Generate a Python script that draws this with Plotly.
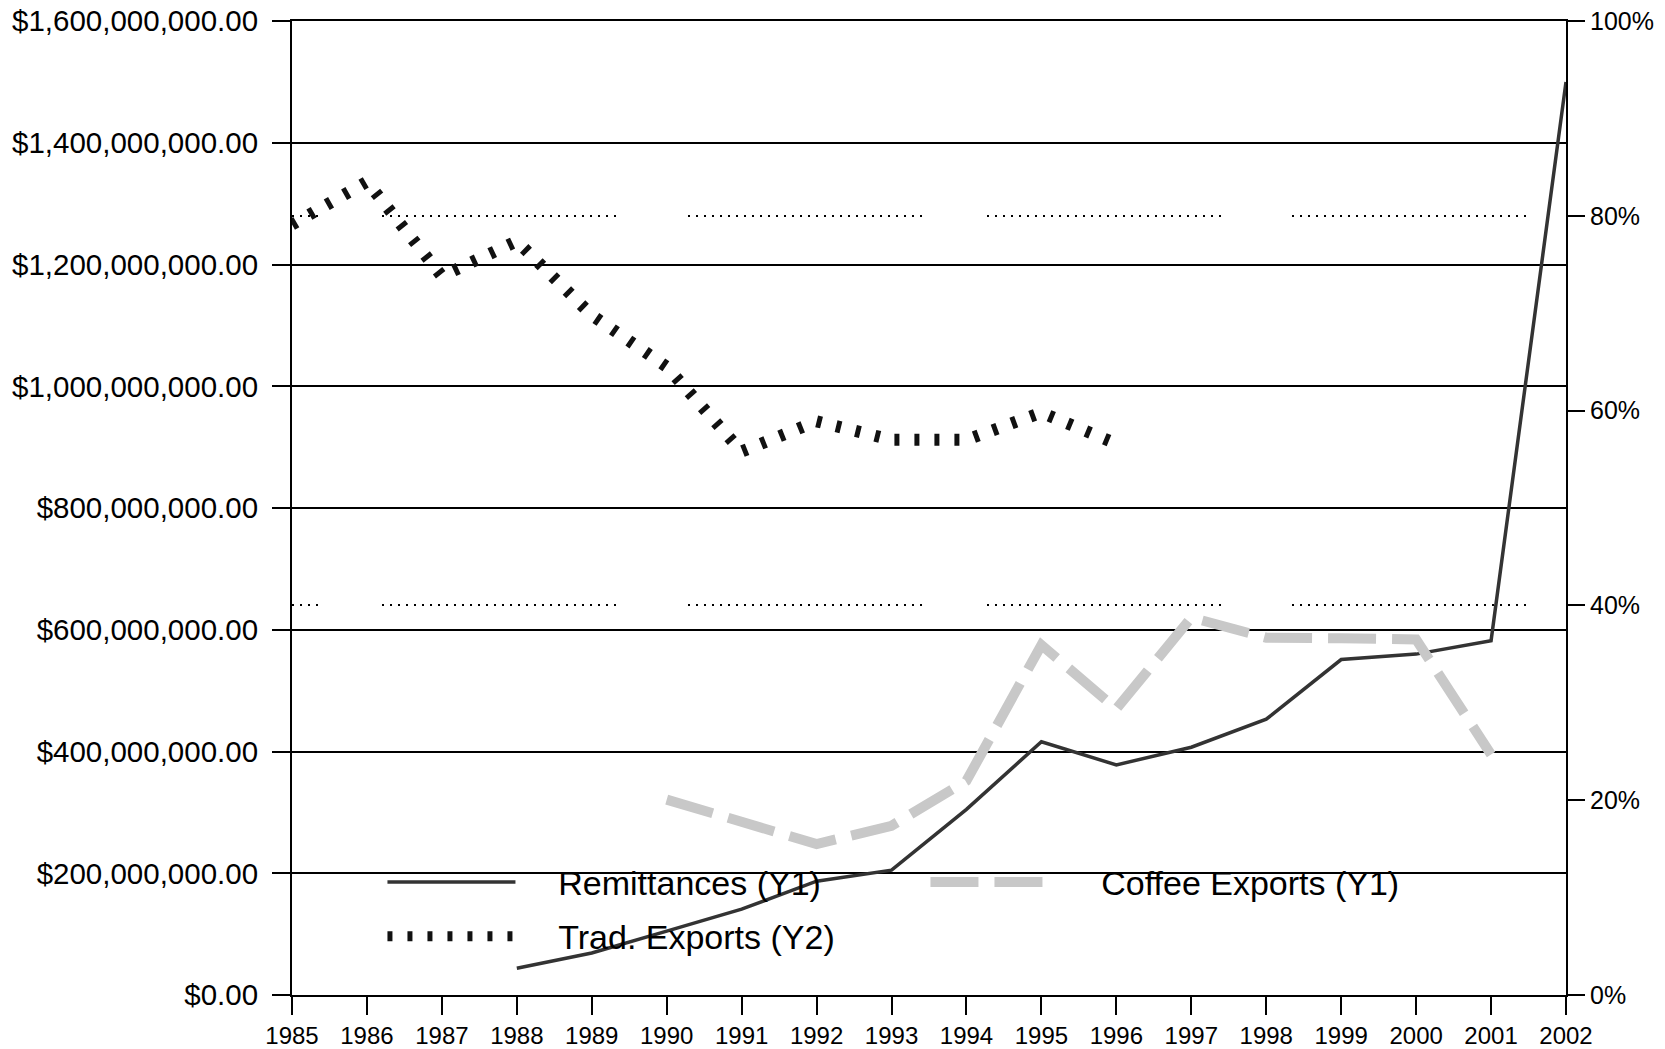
import plotly.graph_objects as go

# ---------------- data ----------------
years = list(range(1985, 2003))

remit_years = list(range(1988, 2003))
remittances = [44e6, 69e6, 105e6, 141e6, 187e6, 205e6, 305e6, 416e6,
               378e6, 407e6, 453e6, 551e6, 560e6, 582e6, 1500e6]

coffee_years = list(range(1990, 2002))
coffee = [321e6, 283e6, 248e6, 278e6, 352e6, 575e6, 470e6, 620e6,
          587e6, 586e6, 584e6, 395e6]

trad_years = list(range(1985, 1997))
trad_pct = [79.1, 83.5, 73.8, 77.4, 69.8, 64.5, 55.8, 58.9, 57.0, 57.0, 59.8, 56.6]

y1_ticks = [0, 2e8, 4e8, 6e8, 8e8, 10e8, 12e8, 14e8, 16e8]
y2_ticks = [0, 20, 40, 60, 80, 100]
y2_labels = ["0%", "20%", "40%", "60%", "80%", "100%"]
dotted_ref = [40, 80, 100]

# ---------------- style ----------------
FONT = "Liberation Sans, Arial, sans-serif"
GAP = "\u00a0\u00a0\u00a0\u00a0"


def build_dash(segs, dot=2, gap=6, tail=500):
    parts = []
    for i, (s, e) in enumerate(segs):
        n = int((e - s - dot) // (dot + gap)) + 1
        for k in range(n):
            parts.append(dot)
            if k < n - 1:
                parts.append(gap)
        end_last = s + (n - 1) * (dot + gap) + dot
        nxt = segs[i + 1][0] if i + 1 < len(segs) else end_last + tail
        parts.append(nxt - end_last)
    return ",".join(f"{p}px" for p in parts)


dotted_dash = build_dash([(0, 26), (90, 324), (396, 630), (695, 929), (1000, 1234)])

fig = go.Figure()

fig.add_trace(go.Scatter(
    x=remit_years, y=remittances, name=GAP + "Remittances (Y1)", mode="lines",
    line=dict(color="#333333", width=3.5), yaxis="y", legend="legend"))

fig.add_trace(go.Scatter(
    x=coffee_years, y=coffee, name=GAP + "Coffee Exports (Y1)", mode="lines",
    line=dict(color="#c8c8c8", width=10, dash="48px,16px"), yaxis="y", legend="legend"))

fig.add_trace(go.Scatter(
    x=trad_years, y=trad_pct, name=GAP + "Trad. Exports (Y2)", mode="lines",
    line=dict(color="#111111", width=12, dash="5px,15px"), yaxis="y2", legend="legend2"))

# helper (empty) trace so the dotted reference axis is drawn
fig.add_trace(go.Scatter(x=[years[0]], y=[None], yaxis="y3", showlegend=False,
                         hoverinfo="skip", mode="lines"))

legend_common = dict(orientation="h", xanchor="left", yanchor="middle",
                     font=dict(size=34, family=FONT, color="#000000"),
                     bgcolor="rgba(0,0,0,0)", entrywidth=400, entrywidthmode="pixels",
                     itemwidth=128, traceorder="normal")

fig.update_layout(
    width=1665, height=1049,
    paper_bgcolor="white", plot_bgcolor="white",
    margin=dict(l=292, r=99, t=21, b=54, autoexpand=False),
    font=dict(family=FONT, color="#000000"),
    showlegend=True,
    legend=dict(x=0.071, y=0.1155, **legend_common),
    legend2=dict(x=0.071, y=0.060, **legend_common),
    xaxis=dict(range=[years[0], years[-1]], tickmode="array", tickvals=years,
               ticktext=[str(y) for y in years], automargin=False,
               ticks="outside", ticklen=18, tickwidth=2, tickcolor="#000",
               showline=True, mirror=True, linecolor="#000", linewidth=2,
               showgrid=False, zeroline=False, ticklabeloverflow="allow",
               tickfont=dict(size=24, family=FONT, color="#000")),
    yaxis=dict(range=[0, 1.6e9], tickmode="array", tickvals=y1_ticks,
               tickformat="$,.2f", automargin=False, ticklabelstandoff=8,
               ticklabeloverflow="allow",
               ticks="outside", ticklen=18, tickwidth=2, tickcolor="#000",
               showline=True, linecolor="#000", linewidth=2,
               showgrid=True, gridcolor="#000", gridwidth=2, zeroline=False,
               tickfont=dict(size=29.5, family=FONT, color="#000")),
    yaxis2=dict(range=[0, 100], tickmode="array", tickvals=y2_ticks,
                ticktext=y2_labels, automargin=False, ticklabeloverflow="allow",
                overlaying="y", side="right", anchor="x",
                ticks="outside", ticklen=17, tickwidth=2, tickcolor="#000",
                showline=True, linecolor="#000", linewidth=2,
                showgrid=False, zeroline=False,
                tickfont=dict(size=25, family=FONT, color="#000")),
    yaxis3=dict(range=[0, 100], tickmode="array", tickvals=dotted_ref,
                overlaying="y", side="right", anchor="x", automargin=False,
                showticklabels=False, ticks="", showline=False,
                showgrid=True, gridcolor="#000", gridwidth=2,
                griddash=dotted_dash, zeroline=False),
)

fig.write_html("out.html", config={"displayModeBar": False},
               post_script="document.body.style.margin='0px';")
